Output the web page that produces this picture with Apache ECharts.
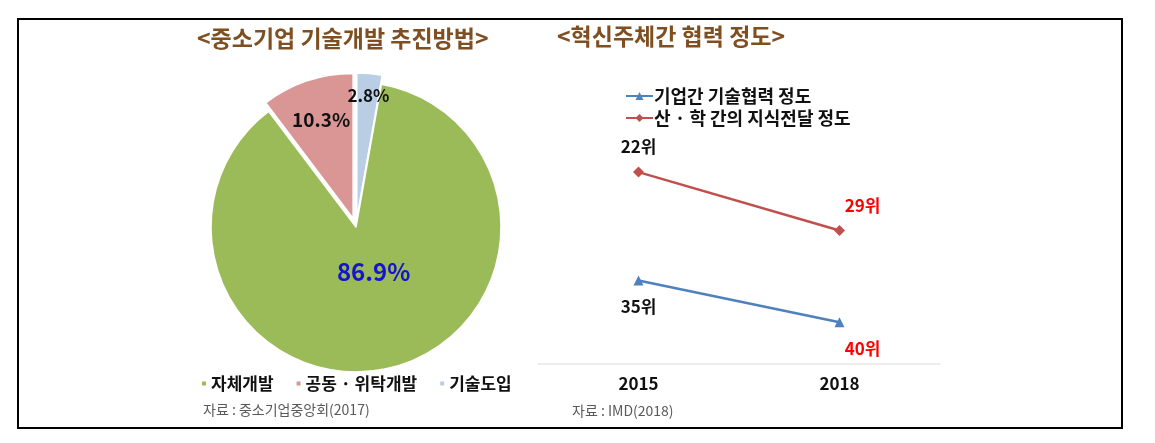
<!DOCTYPE html>
<html>
<head>
<meta charset="utf-8">
<script src="https://cdn.jsdelivr.net/npm/echarts@6/dist/echarts.min.js"></script>
<style>
html,body{margin:0;padding:0;background:#fff;}
#c{width:1155px;height:443px;}
</style>
</head>
<body>
<div id="c"></div>
<script>
// ---- data ----
const pieCategories = ['자체개발', '공동 · 위탁개발', '기술도입'];
const pieValues = [86.9, 10.3, 2.8];
const pieLabels = ['86.9%', '10.3%', '2.8%'];
const years = ['2015', '2018'];
const lineNames = ['기업간 기술협력 정도', '산 · 학 간의 지식전달 정도'];
const coopRank = [35, 40];
const knowRank = [22, 29];

const FONT = '"Noto Sans CJK KR", "Noto Sans", sans-serif';
const pieColors = ['#9BBB59', '#D99694', '#B9CDE5'];
const pieLabelColors = ['#1515CC', '#111111', '#111111'];
const pieLabelSizes = [24, 19, 17];
// drawing order clockwise from 12 o'clock: 기술도입, 자체개발, 공동·위탁개발
const drawOrder = [2, 0, 1];
const pieData = drawOrder.map(i => ({
  name: pieCategories[i],
  value: pieValues[i],
  selected: i !== 0,
  itemStyle: { color: pieColors[i] },
  label: {
    formatter: pieLabels[i],
    color: pieLabelColors[i],
    fontSize: pieLabelSizes[i]
  }
}));
const labelShift = { '자체개발': [0, -29], '공동 · 위탁개발': [-8, -27], '기술도입': [5, -47] };

function lineLabel(pos, color, offset) {
  return { show: true, position: pos, offset: offset, color: color, fontSize: 17, fontWeight: 'bold',
    fontFamily: FONT, formatter: '{c}위' };
}
const knowLabelCfg = [lineLabel('top', '#111', [0, -7]), lineLabel('top', '#FF0000', [23, -6])];
const coopLabelCfg = [lineLabel('bottom', '#111', [0, 7]), lineLabel('bottom', '#FF0000', [23, 8])];

const chart = echarts.init(document.getElementById('c'));
chart.setOption({
  animation: false,
  textStyle: { fontFamily: FONT },
  title: [
    { text: '<중소기업 기술개발 추진방법>', left: 197, top: 27, padding: 0,
      textStyle: { fontSize: 23, fontWeight: 'bold', color: '#7F4F21', fontFamily: FONT } },
    { text: '<혁신주체간 협력 정도>', left: 557, top: 25, padding: 0,
      textStyle: { fontSize: 23, fontWeight: 'bold', color: '#7F4F21', fontFamily: FONT } },
    { text: '자료 : 중소기업중앙회(2017)', left: 203, top: 403, padding: 0,
      textStyle: { fontSize: 14, fontWeight: 'normal', color: '#595959', fontFamily: FONT } },
    { text: '자료 : IMD(2018)', left: 572, top: 404, padding: 0,
      textStyle: { fontSize: 14, fontWeight: 'normal', color: '#595959', fontFamily: FONT } }
  ],
  legend: [
    { data: pieCategories, left: 200, top: 375, padding: 0, itemGap: 21,
      icon: 'rect', itemWidth: 6, itemHeight: 6,
      textStyle: { fontSize: 17, fontWeight: 'bold', color: '#111', fontFamily: FONT, padding: [0, 0, 0, -1] } },
    { data: lineNames, orient: 'vertical', left: 625, top: 87, padding: 0, itemGap: 4,
      itemWidth: 27, itemHeight: 10,
      textStyle: { fontSize: 18, fontWeight: 'bold', color: '#111', fontFamily: FONT, lineHeight: 18, padding: [0, 0, 0, -4] } }
  ],
  grid: { left: 538, width: 402, top: 72, height: 292 },
  xAxis: {
    type: 'category', data: years, boundaryGap: true,
    axisLine: { lineStyle: { color: '#E8E8E8', width: 1.5 } },
    axisTick: { show: false },
    axisLabel: { fontSize: 17, fontWeight: 'bold', color: '#111', margin: 11, fontFamily: FONT }
  },
  yAxis: { type: 'value', inverse: true, min: 10, max: 45, show: false, splitLine: { show: false } },
  graphic: [
    { type: 'rect', shape: { x: 18, y: 19, width: 1104, height: 409 },
      style: { fill: 'none', stroke: '#000', lineWidth: 2 }, silent: true }
  ],
  series: [
    {
      type: 'pie', center: [356, 227], radius: 145, startAngle: 90, clockwise: true,
      selectedMode: 'multiple', selectedOffset: 9,
      itemStyle: { borderColor: '#fff', borderWidth: 1.5 },
      label: { show: true, position: 'inside', fontWeight: 'bold', fontFamily: FONT },
      labelLine: { show: false },
      emphasis: { disabled: true },
      labelLayout: function (p) {
        const s = labelShift[pieData[p.dataIndex].name];
        return { dx: s[0], dy: s[1] };
      },
      data: pieData
    },
    {
      name: lineNames[0], type: 'line', data: coopRank.map((v, i) => ({ value: v, label: coopLabelCfg[i] })),
      symbol: 'triangle', symbolSize: 10,
      lineStyle: { color: '#4F81BD', width: 2.5 }, itemStyle: { color: '#4F81BD' }
    },
    {
      name: lineNames[1], type: 'line', data: knowRank.map((v, i) => ({ value: v, label: knowLabelCfg[i] })),
      symbol: 'diamond', symbolSize: 11,
      lineStyle: { color: '#C0504D', width: 2.5 }, itemStyle: { color: '#C0504D' }
    }
  ]
});
</script>
</body>
</html>
